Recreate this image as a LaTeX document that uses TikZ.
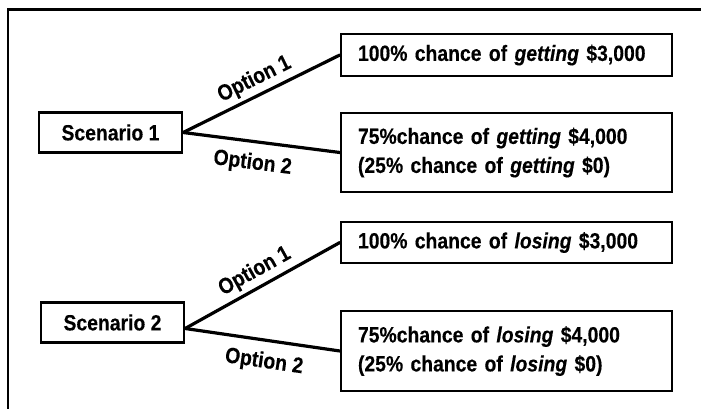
\documentclass[tikz,border=0pt]{standalone}
\usepackage{fontspec}
\setmainfont{Liberation Sans}[FakeStretch=0.88, FakeBold=0.3]
\usetikzlibrary{positioning}
\tikzset{%
  every node/.style={
    font=\fontsize{22pt}{29pt}\selectfont\bfseries},
  scenbox/.style={
    draw, line width=2.3pt, rectangle,
    minimum width=143pt, minimum height=40pt, inner sep=0pt},
  outcome/.style={
    draw, line width=2.3pt, rectangle, align=left,
    text width=297pt, inner xsep=17pt, inner ysep=0pt},
  optlabel/.style={
    sloped, inner sep=1pt},
  every edge/.style={
    draw,
    line width=3.2pt,
    line cap=round} %
}

\begin{document}
\begin{tikzpicture}[x=1pt, y=-1pt]
    \useasboundingbox (0,0) rectangle (701,409);
    \draw[line width=2.5pt] (8,409) -- (8,9.5) -- (701,9.5);

    \node[scenbox] (S1) at (110.5,132.5) {Scenario 1};
    \node[scenbox] (S2) at (112.5,322.5) {Scenario 2};

    \node[outcome, minimum height=42pt] (G1) at (506.5,55)
      {100\% chance of \textit{getting} \$3,000};
    \node[outcome, minimum height=79pt] (G2) at (506.5,152.5)
      {75\%chance of \textit{getting} \$4,000\\(25\% chance of \textit{getting} \$0)};
    \node[outcome, minimum height=41pt] (L1) at (506.5,242.5)
      {100\% chance of \textit{losing} \$3,000};
    \node[outcome, minimum height=80pt] (L2) at (506.5,351)
      {75\%chance of \textit{losing} \$4,000\\(25\% chance of \textit{losing} \$0)};

    \draw
      (S1.east) edge node[optlabel, above=3pt, pos=0.5] {Option 1} (G1.west)
      (S1.east) edge node[optlabel, below=9pt, pos=0.46] {Option 2} (G2.west)
      ([yshift=-6pt]S2.east) edge node[optlabel, above=3pt, pos=0.5] {Option 1} (L1.west)
      ([yshift=-6pt]S2.east) edge node[optlabel, below=9pt, pos=0.53] {Option 2} (L2.west)
    ;

\end{tikzpicture}
\end{document}
